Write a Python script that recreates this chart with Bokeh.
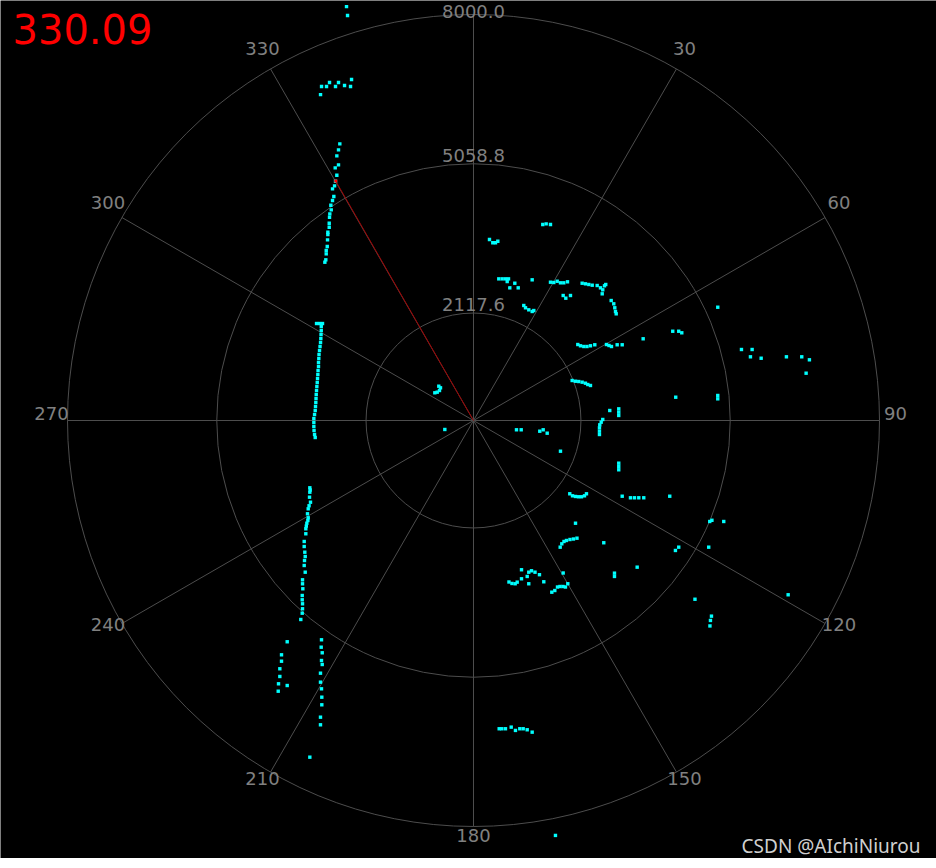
import math
from bokeh.plotting import figure
from bokeh.models import Range1d, Label
from bokeh.embed import file_html
from bokeh.resources import INLINE
from bokeh.core.properties import value

# ---------------- data ----------------
ring_values = [2117.6, 5058.8, 8000.0]
ring_labels = ["2117.6", "5058.8", "8000.0"]
spoke_angles = [0, 30, 60, 90, 120, 150, 180, 210, 240, 270, 300, 330]
angle_label_values = [30, 60, 90, 120, 150, 180, 210, 240, 270, 300, 330]
scan_angle_deg = 330.09
scan_dist_mm = 5442

# scan points (x east, y north, mm)
far_top_pts = [(-2502, 8156), (-2482, 7979),
               (-2403, 6718), (-2994, 6580), (-2896, 6580), (-2837, 6659), (-2719, 6580),
               (-2660, 6659), (-2541, 6600), (-2423, 6580), (-3014, 6422)]
upper_left_wall_pts = [(-2634, 5451), (-2660, 5333), (-2693, 5215), (-2660, 5037), (-2725, 4978),
                       (-2693, 4832), (-2719, 4714), (-2738, 4624), (-2778, 4564), (-2752, 4413),
                       (-2778, 4334), (-2811, 4241), (-2803, 4151), (-2831, 4072), (-2837, 4005),
                       (-2843, 3887), (-2843, 3808), (-2870, 3710), (-2870, 3664), (-2876, 3560),
                       (-2882, 3428), (-2902, 3349), (-2902, 3284), (-2910, 3166), (-2929, 3119)]
left_wall_pts = [(-3093, 1911), (-3034, 1911), (-2975, 1911), (-3000, 1852), (-3000, 1773),
                 (-3004, 1694), (-3008, 1615), (-3014, 1537), (-3024, 1458), (-3034, 1379),
                 (-3044, 1300), (-3048, 1221), (-3054, 1143), (-3054, 1064), (-3063, 985),
                 (-3067, 906), (-3073, 827), (-3079, 749), (-3087, 670), (-3093, 591),
                 (-3099, 512), (-3103, 433), (-3107, 355), (-3113, 276), (-3119, 197),
                 (-3132, 118), (-3146, 39), (-3146, -39), (-3146, -118), (-3142, -197),
                 (-3132, -276), (-3119, -335)]
lower_left_wall_pts = [(-3225, -1326), (-3218, -1370), (-3225, -1413), (-3231, -1511), (-3212, -1610),
                       (-3240, -1680), (-3257, -1740), (-3271, -1838), (-3257, -1917), (-3264, -1970),
                       (-3284, -2024), (-3294, -2080), (-3304, -2134), (-3304, -2232), (-3336, -2384),
                       (-3336, -2483), (-3324, -2595), (-3316, -2680), (-3330, -2759), (-3336, -2857),
                       (-3316, -2989), (-3369, -3139), (-3369, -3218), (-3363, -3316), (-3375, -3448),
                       (-3375, -3533), (-3369, -3612), (-3369, -3710), (-3375, -3797), (-3403, -3921)]
far_left_pts = [(-3671, -4360), (-3783, -4617), (-3783, -4743), (-3816, -4892), (-3816, -5044),
                (-3842, -5188), (-3848, -5334), (-3671, -5222),
                (-2995, -4321), (-3001, -4467), (-2981, -4577), (-2995, -4729), (-2981, -4808),
                (-3015, -4979), (-3015, -5156), (-2995, -5287), (-2989, -5452), (-2989, -5602),
                (-3015, -5846), (-3015, -5996), (-3225, -6634)]
rear_pts = [(506, -6074), (558, -6074), (630, -6074), (743, -6042), (827, -6107), (912, -6074),
            (979, -6074), (1058, -6094), (1156, -6141), (1615, -8176),
            (699, -3182), (758, -3211), (821, -3217), (861, -3185), (946, -2941), (946, -3119),
            (1058, -3073), (1089, -2989), (1143, -2961), (1212, -2989), (1300, -3038),
            (1089, -3217), (1385, -3178), (1543, -3383), (1602, -3350), (1655, -3281),
            (1704, -3271), (1763, -3271), (1812, -3281), (1858, -3217), (1767, -3005),
            (1708, -2496), (1740, -2430), (1783, -2384), (1832, -2364), (1901, -2345),
            (1970, -2335), (2039, -2319), (2010, -2024)]
right_lower_pts = [(1897, -1444), (1951, -1484), (2010, -1497), (2069, -1503), (2128, -1503),
                   (2187, -1484), (2226, -1444),
                   (2930, -1492), (3093, -1523), (3172, -1523), (3257, -1523), (3355, -1523),
                   (3867, -1492),
                   (2567, -2409), (4655, -1990), (4698, -1966), (4931, -1990), (3979, -2561),
                   (4044, -2496), (4635, -2496), (3225, -2890), (2778, -3008), (2778, -3073),
                   (4364, -3522), (6200, -3434), (4689, -3855), (4669, -3940), (4659, -4048)]
near_pts = [(2685, 197), (2862, 230), (2862, 164), (2862, 99), (2547, 20), (2516, -33),
            (2488, -85), (2482, -144), (2482, -211), (2482, -276), (2862, -841), (2862, -906),
            (2862, -971),
            (847, -183), (940, -183), (1306, -211), (1373, -183), (1452, -250), (1714, -605),
            (-565, -177),
            (-762, 546), (-715, 558), (-670, 591), (-650, 644), (-684, 676),
            (1944, 788), (2010, 774), (2074, 768), (2141, 755), (2206, 735), (2252, 709),
            (2305, 690)]
right_upper_pts = [(2055, 1497), (2108, 1472), (2173, 1458), (2236, 1458), (2305, 1472),
                   (2390, 1492), (2620, 1497), (2670, 1478), (2719, 1458), (2831, 1492),
                   (2930, 1492), (3343, 1610),
                   (3926, 1759), (4044, 1759), (4104, 1728), (4813, 2232), (5280, 1399),
                   (5490, 1399), (5457, 1255), (5668, 1227), (6166, 1255), (6468, 1255),
                   (6619, 1196), (6554, 932), (3985, 459), (4813, 493), (4813, 427)]
front_right_pts = [(1365, 3861), (1432, 3875), (1517, 3861), (315, 3566), (380, 3501),
                   (433, 3501), (479, 3532), (498, 2791), (565, 2791), (630, 2791), (690, 2791),
                   (664, 2738), (715, 2614), (814, 2705), (881, 2614), (1156, 2772),
                   (1517, 2725), (1582, 2719), (1649, 2744), (1714, 2713), (1779, 2713),
                   (1852, 2733), (1767, 2463), (1819, 2410), (1911, 2463), (2141, 2705),
                   (2206, 2693), (2272, 2680), (2339, 2666), (2437, 2660), (2502, 2614),
                   (2547, 2575), (2581, 2654), (2606, 2680), (2536, 2496), (2713, 2364),
                   (2764, 2299), (2784, 2221), (2798, 2148), (2812, 2102), (991, 2266),
                   (1025, 2221), (1089, 2181), (1156, 2148), (1188, 2167)]

# ---------------- layout ----------------
W, H = 936, 858
CX, CY = 473, 420            # centre in figure pixels
R_PX = 406                   # outer ring radius in pixels
R_MAX = ring_values[-1]
upp = R_MAX / R_PX           # data units per pixel

x_range = Range1d(-CX * upp, (W - CX) * upp)
y_range = Range1d(-(H - CY) * upp, CY * upp)

def fx(px):
    return x_range.start + px * upp

def fy(py):
    return y_range.end - py * upp

p = figure(width=W, height=H, x_range=x_range, y_range=y_range,
           x_axis_type=None, y_axis_type=None, output_backend="svg",
           toolbar_location=None, min_border=0,
           background_fill_color="black", border_fill_color="black",
           outline_line_color=None)
p.grid.visible = False

grid_color = "#4d4d4d"
label_color = "#808080"
font = value("DejaVu Sans")

# rings
p.circle(x=[0] * len(ring_values), y=[0] * len(ring_values), radius=ring_values,
         fill_color=None, line_color=grid_color, line_width=1)

# spokes
sx = [R_MAX * math.sin(math.radians(a)) for a in spoke_angles]
sy = [R_MAX * math.cos(math.radians(a)) for a in spoke_angles]
p.segment(x0=[0] * len(sx), y0=[0] * len(sy), x1=sx, y1=sy,
          line_color=grid_color, line_width=1)

# ring labels, sitting on top of each ring (kept just inside the top edge)
ring_label_y = [min(r + 8.5 * upp, fy(11)) for r in ring_values]
p.text(x=[0] * len(ring_values), y=ring_label_y, text=ring_labels,
       text_align="center", text_baseline="middle", text_color=label_color,
       text_font=font, text_font_size="18px")

# angle labels
r_lab = R_MAX * (R_PX + 16) / R_PX
lx = [r_lab * math.sin(math.radians(a)) for a in angle_label_values]
ly = [r_lab * math.cos(math.radians(a)) + 7 * upp for a in angle_label_values]
p.text(x=lx, y=ly, text=[str(a) for a in angle_label_values],
       text_align="center", text_baseline="middle", text_color=label_color,
       text_font=font, text_font_size="18px")

# scan points
all_groups = [far_top_pts, upper_left_wall_pts, left_wall_pts, lower_left_wall_pts,
              far_left_pts, rear_pts, right_lower_pts, near_pts, right_upper_pts,
              front_right_pts]
px_ = [pt[0] for g in all_groups for pt in g]
py_ = [pt[1] for g in all_groups for pt in g]
p.scatter(x=px_, y=py_, marker="square", size=3.4, fill_color="#00ffff",
          line_color=None)

# current scan beam
bx = scan_dist_mm * math.sin(math.radians(scan_angle_deg))
by = scan_dist_mm * math.cos(math.radians(scan_angle_deg))
p.segment(x0=[0], y0=[0], x1=[bx], y1=[by], line_color="#a00000", line_width=1)
p.scatter(x=[bx], y=[by], marker="square", size=3, fill_color="#ff0000", line_color=None)

# current angle readout
p.add_layout(Label(x=fx(12), y=fy(28), text=f"{scan_angle_deg:.2f}", text_color="#ff0000",
                   text_font="DejaVu Sans", text_font_size="40px", text_baseline="middle",
                   text_align="left"))

# watermark
p.add_layout(Label(x=fx(920), y=fy(845), text="CSDN @AIchiNiurou", text_color="#d0d0d0",
                   text_font="Noto Sans", text_font_size="19px",
                   text_baseline="middle", text_align="right"))

open("out.html", "w").write(file_html(p, INLINE))
